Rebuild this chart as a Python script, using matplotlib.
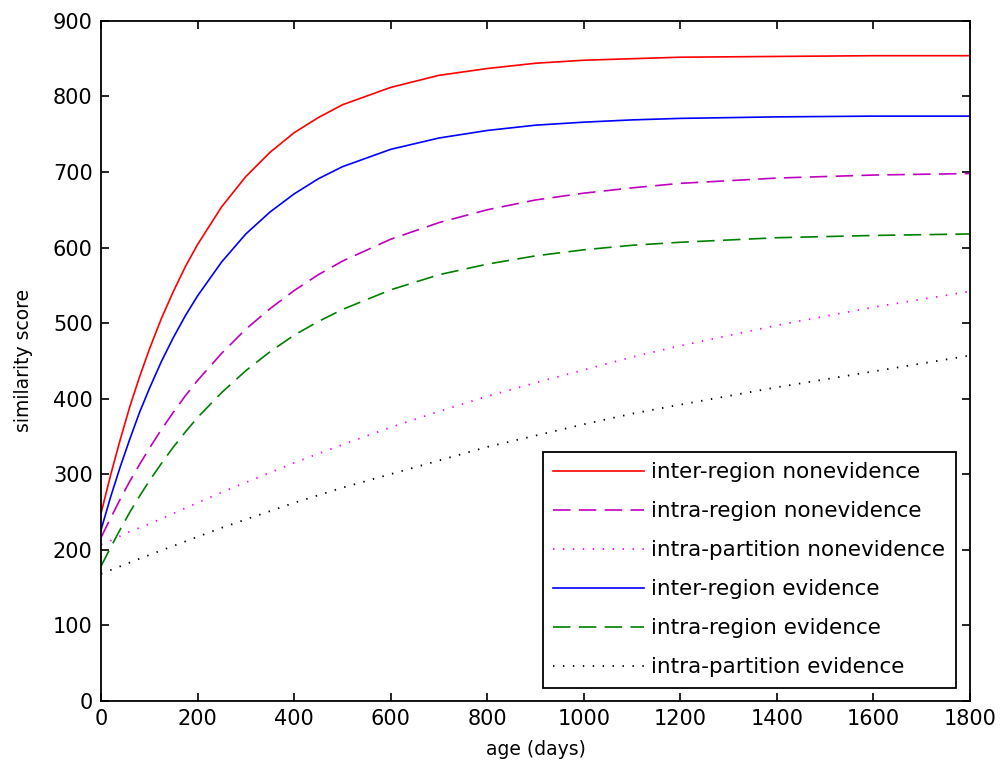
import matplotlib
matplotlib.use("Agg")
import matplotlib.pyplot as plt

# age (days) sample points
age = [0, 20, 40, 60, 80, 100, 125, 150, 175, 200, 250, 300, 350, 400, 450, 500,
       600, 700, 800, 900, 1000, 1100, 1200, 1400, 1600, 1800]

# similarity scores
inter_region_nonev = [248, 299, 346, 390, 429, 465, 506, 542, 575, 604, 654, 694, 726,
                      752, 772, 789, 812, 828, 837, 844, 848, 850, 852, 853, 854, 854]
intra_region_nonev = [216, 242, 267, 291, 313, 334, 359, 382, 404, 424, 460, 492, 519,
                      543, 564, 582, 611, 633, 650, 663, 672, 679, 685, 692, 696, 698]
intra_partition_nonev = [207, 212, 218, 224, 229, 234, 241, 248, 255, 262, 276, 289, 302,
                         315, 327, 339, 362, 383, 403, 421, 438, 455, 470, 497, 521, 542]
inter_region_ev = [226, 270, 310, 347, 382, 413, 449, 481, 510, 536, 581, 618, 647,
                   671, 691, 707, 730, 745, 755, 762, 766, 769, 771, 773, 774, 774]
intra_region_ev = [178, 203, 227, 250, 271, 291, 314, 336, 356, 375, 408, 437, 462,
                   484, 502, 518, 544, 564, 578, 589, 597, 603, 607, 613, 616, 618]
intra_partition_ev = [168, 173, 178, 183, 188, 193, 199, 205, 211, 217, 229, 240, 251,
                      262, 272, 282, 300, 318, 336, 351, 366, 380, 392, 415, 436, 457]

plt.rcParams['font.family'] = ['DejaVu Sans']

fig = plt.figure(figsize=(10, 7.76), dpi=100)
ax = fig.add_axes([0.101, 0.097, 0.869, 0.876])

ax.plot(age, inter_region_nonev, color='#ff0000', lw=1.2, label='inter-region nonevidence')
ax.plot(age, intra_region_nonev, color='#bf00bf', lw=1.2, dashes=(10.5, 5),
        label='intra-region nonevidence')
ax.plot(age, intra_partition_nonev, color='#ff00ff', lw=1.3, dashes=(0.8, 4.7),
        label='intra-partition nonevidence')
ax.plot(age, inter_region_ev, color='#0000ff', lw=1.2, label='inter-region evidence')
ax.plot(age, intra_region_ev, color='#008000', lw=1.2, dashes=(10.5, 5),
        label='intra-region evidence')
ax.plot(age, intra_partition_ev, color='#000000', lw=1.3, dashes=(0.8, 4.7),
        label='intra-partition evidence')

ax.set_xlim(0, 1800)
ax.set_ylim(0, 900)
ax.set_xticks(range(0, 1801, 200))
ax.set_yticks(range(0, 901, 100))
ax.tick_params(direction='in', length=6, width=1.2, top=True, right=True,
               labelsize=15, pad=6)
for s in ax.spines.values():
    s.set_linewidth(1.3)

ax.set_xlabel('age (days)', fontsize=13.5, labelpad=8)
ax.set_ylabel('similarity score', fontsize=13.5, labelpad=14)

leg = ax.legend(loc='lower right', bbox_to_anchor=(0.984, 0.019), borderaxespad=0,
                fontsize=15.5, handlelength=4.2, labelspacing=0.88, borderpad=0.5,
                handletextpad=0.35, fancybox=False, framealpha=1, edgecolor='black')
leg.get_frame().set_linewidth(1.3)

fig.savefig('out.png', dpi=100)
